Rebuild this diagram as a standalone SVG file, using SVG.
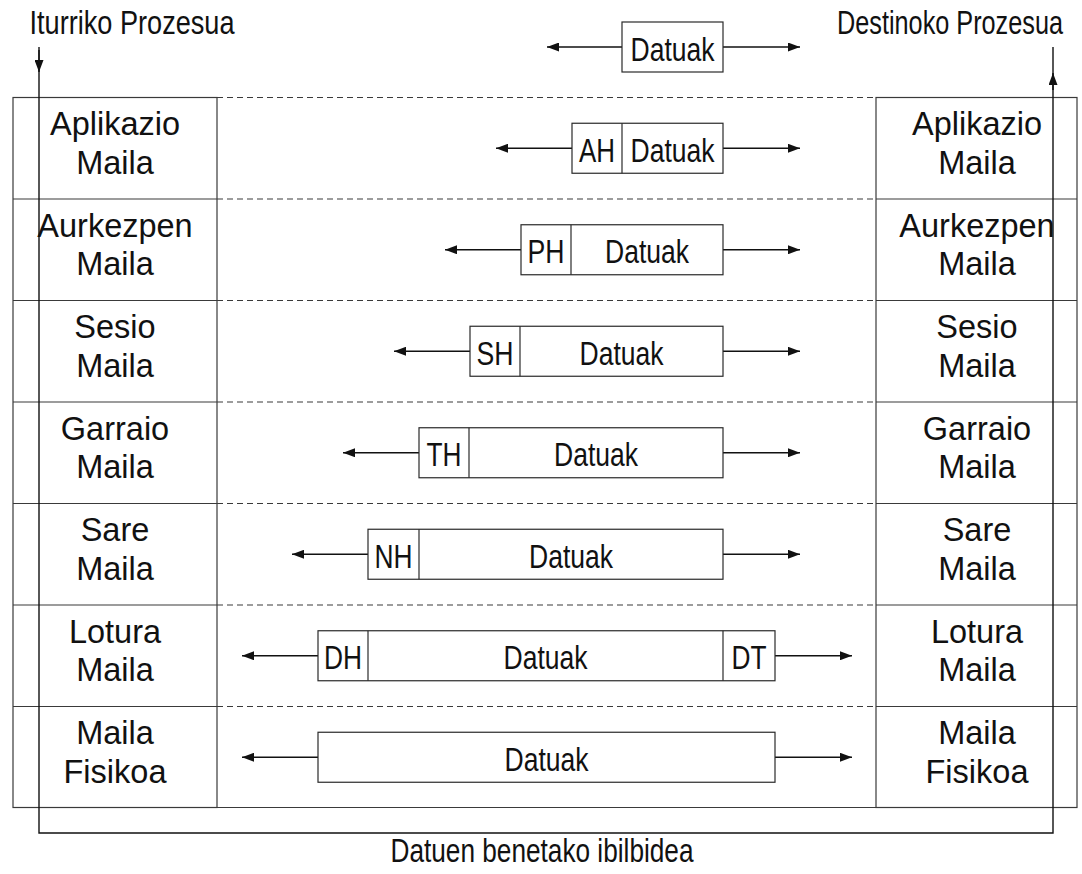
<svg xmlns="http://www.w3.org/2000/svg" width="1082" height="874" viewBox="0 0 1082 874">
<style>
.frame{fill:none;stroke:#3a3a3a;stroke-width:1.2}
.dash{fill:none;stroke:#3a3a3a;stroke-width:1.2;stroke-dasharray:6 4}
.pkt{fill:#fff;stroke:#2a2a2a;stroke-width:1.2}
.conn{fill:none;stroke:#111;stroke-width:1.4}
.lbl{font-family:"Liberation Sans",Arial,sans-serif;font-size:32.5px;fill:#111;text-anchor:middle}
.nar{font-family:"Liberation Sans",Arial,sans-serif;font-size:32.5px;fill:#111;text-anchor:middle}
</style>
<defs>
<marker id="ah" viewBox="0 0 12 9" refX="12" refY="4.5" markerWidth="12" markerHeight="9" markerUnits="userSpaceOnUse" orient="auto">
<path d="M0,0 L12,4.5 L0,9 Z" fill="#111"/>
</marker>
</defs>

<g id="frame">
<rect class="frame" x="13" y="97.5" width="204" height="710"/>
<rect class="frame" x="876" y="97.5" width="201" height="710"/>
<line class="frame" x1="217" y1="807.5" x2="876" y2="807.5"/>
<path class="frame" d="M13,199H217M13,300.5H217M13,402H217M13,503.5H217M13,605H217M13,706.5H217"/>
<path class="frame" d="M876,199H1077M876,300.5H1077M876,402H1077M876,503.5H1077M876,605H1077M876,706.5H1077"/>
<path class="dash" d="M217,97.5H876M217,199H876M217,300.5H876M217,402H876M217,503.5H876M217,605H876M217,706.5H876"/>
</g>

<g id="labels-left">
<text class="lbl" x="115" y="135">Aplikazio</text><text class="lbl" x="115" y="174">Maila</text>
<text class="lbl" x="115" y="237">Aurkezpen</text><text class="lbl" x="115" y="275">Maila</text>
<text class="lbl" x="115" y="338">Sesio</text><text class="lbl" x="115" y="377">Maila</text>
<text class="lbl" x="115" y="440">Garraio</text><text class="lbl" x="115" y="478">Maila</text>
<text class="lbl" x="115" y="541">Sare</text><text class="lbl" x="115" y="580">Maila</text>
<text class="lbl" x="115" y="643">Lotura</text><text class="lbl" x="115" y="681">Maila</text>
<text class="lbl" x="115" y="744">Maila</text><text class="lbl" x="115" y="783">Fisikoa</text>
</g>
<g id="labels-right">
<text class="lbl" x="977" y="135">Aplikazio</text><text class="lbl" x="977" y="174">Maila</text>
<text class="lbl" x="977" y="237">Aurkezpen</text><text class="lbl" x="977" y="275">Maila</text>
<text class="lbl" x="977" y="338">Sesio</text><text class="lbl" x="977" y="377">Maila</text>
<text class="lbl" x="977" y="440">Garraio</text><text class="lbl" x="977" y="478">Maila</text>
<text class="lbl" x="977" y="541">Sare</text><text class="lbl" x="977" y="580">Maila</text>
<text class="lbl" x="977" y="643">Lotura</text><text class="lbl" x="977" y="681">Maila</text>
<text class="lbl" x="977" y="744">Maila</text><text class="lbl" x="977" y="783">Fisikoa</text>
</g>

<g id="connectors">
<line class="conn" x1="622" y1="47" x2="547" y2="47" marker-end="url(#ah)"/>
<line class="conn" x1="723" y1="47" x2="800" y2="47" marker-end="url(#ah)"/>
<line class="conn" x1="572" y1="148.25" x2="496" y2="148.25" marker-end="url(#ah)"/>
<line class="conn" x1="723" y1="148.25" x2="800" y2="148.25" marker-end="url(#ah)"/>
<line class="conn" x1="521" y1="249.75" x2="445" y2="249.75" marker-end="url(#ah)"/>
<line class="conn" x1="723" y1="249.75" x2="800" y2="249.75" marker-end="url(#ah)"/>
<line class="conn" x1="470" y1="351.25" x2="394" y2="351.25" marker-end="url(#ah)"/>
<line class="conn" x1="723" y1="351.25" x2="800" y2="351.25" marker-end="url(#ah)"/>
<line class="conn" x1="419" y1="452.75" x2="343" y2="452.75" marker-end="url(#ah)"/>
<line class="conn" x1="723" y1="452.75" x2="800" y2="452.75" marker-end="url(#ah)"/>
<line class="conn" x1="368" y1="554.25" x2="292" y2="554.25" marker-end="url(#ah)"/>
<line class="conn" x1="723" y1="554.25" x2="800" y2="554.25" marker-end="url(#ah)"/>
<line class="conn" x1="318" y1="655.75" x2="242" y2="655.75" marker-end="url(#ah)"/>
<line class="conn" x1="775" y1="655.75" x2="852" y2="655.75" marker-end="url(#ah)"/>
<line class="conn" x1="318" y1="757.25" x2="242" y2="757.25" marker-end="url(#ah)"/>
<line class="conn" x1="775" y1="757.25" x2="852" y2="757.25" marker-end="url(#ah)"/>
<path class="conn" d="M39,47V833H1053V47"/>
<line class="conn" x1="39" y1="50" x2="39" y2="72" marker-end="url(#ah)"/>
<line class="conn" x1="1053" y1="90" x2="1053" y2="73" marker-end="url(#ah)"/>
</g>

<g id="pkt0"><rect class="pkt" x="622" y="22" width="101" height="50"/>
<text class="nar" x="672.5" y="60.5" textLength="84" lengthAdjust="spacingAndGlyphs">Datuak</text></g>

<g id="pkt1"><rect class="pkt" x="572" y="123.25" width="151" height="50"/><line class="pkt" x1="622" y1="123.25" x2="622" y2="173.25"/>
<text class="nar" x="597" y="161.75" textLength="36" lengthAdjust="spacingAndGlyphs">AH</text>
<text class="nar" x="672.5" y="161.75" textLength="84" lengthAdjust="spacingAndGlyphs">Datuak</text></g>

<g id="pkt2"><rect class="pkt" x="521" y="224.75" width="202" height="50"/><line class="pkt" x1="571" y1="224.75" x2="571" y2="274.75"/>
<text class="nar" x="546" y="263.25" textLength="37" lengthAdjust="spacingAndGlyphs">PH</text>
<text class="nar" x="647" y="263.25" textLength="84" lengthAdjust="spacingAndGlyphs">Datuak</text></g>

<g id="pkt3"><rect class="pkt" x="470" y="326.25" width="253" height="50"/><line class="pkt" x1="520" y1="326.25" x2="520" y2="376.25"/>
<text class="nar" x="495" y="364.75" textLength="37" lengthAdjust="spacingAndGlyphs">SH</text>
<text class="nar" x="621.5" y="364.75" textLength="84" lengthAdjust="spacingAndGlyphs">Datuak</text></g>

<g id="pkt4"><rect class="pkt" x="419" y="427.75" width="304" height="50"/><line class="pkt" x1="469" y1="427.75" x2="469" y2="477.75"/>
<text class="nar" x="444" y="466.25" textLength="35" lengthAdjust="spacingAndGlyphs">TH</text>
<text class="nar" x="596" y="466.25" textLength="84" lengthAdjust="spacingAndGlyphs">Datuak</text></g>

<g id="pkt5"><rect class="pkt" x="368" y="529.25" width="355" height="50"/><line class="pkt" x1="419" y1="529.25" x2="419" y2="579.25"/>
<text class="nar" x="393.5" y="567.75" textLength="38" lengthAdjust="spacingAndGlyphs">NH</text>
<text class="nar" x="571" y="567.75" textLength="84" lengthAdjust="spacingAndGlyphs">Datuak</text></g>

<g id="pkt6"><rect class="pkt" x="318" y="630.75" width="457" height="50"/><line class="pkt" x1="368" y1="630.75" x2="368" y2="680.75"/><line class="pkt" x1="723" y1="630.75" x2="723" y2="680.75"/>
<text class="nar" x="343" y="669.25" textLength="38" lengthAdjust="spacingAndGlyphs">DH</text>
<text class="nar" x="545.5" y="669.25" textLength="84" lengthAdjust="spacingAndGlyphs">Datuak</text>
<text class="nar" x="749" y="669.25" textLength="35" lengthAdjust="spacingAndGlyphs">DT</text></g>

<g id="pkt7"><rect class="pkt" x="318" y="732.25" width="457" height="50"/>
<text class="nar" x="546.5" y="770.75" textLength="84" lengthAdjust="spacingAndGlyphs">Datuak</text></g>

<g id="titles">
<text class="nar" x="132" y="34" textLength="205" lengthAdjust="spacingAndGlyphs">Iturriko Prozesua</text>
<text class="nar" transform="translate(950,34) scale(0.777,1)" x="0" y="0">Destinoko Prozesua</text>
<text class="nar" x="542" y="862" textLength="303" lengthAdjust="spacingAndGlyphs">Datuen benetako ibilbidea</text>
</g>
</svg>
